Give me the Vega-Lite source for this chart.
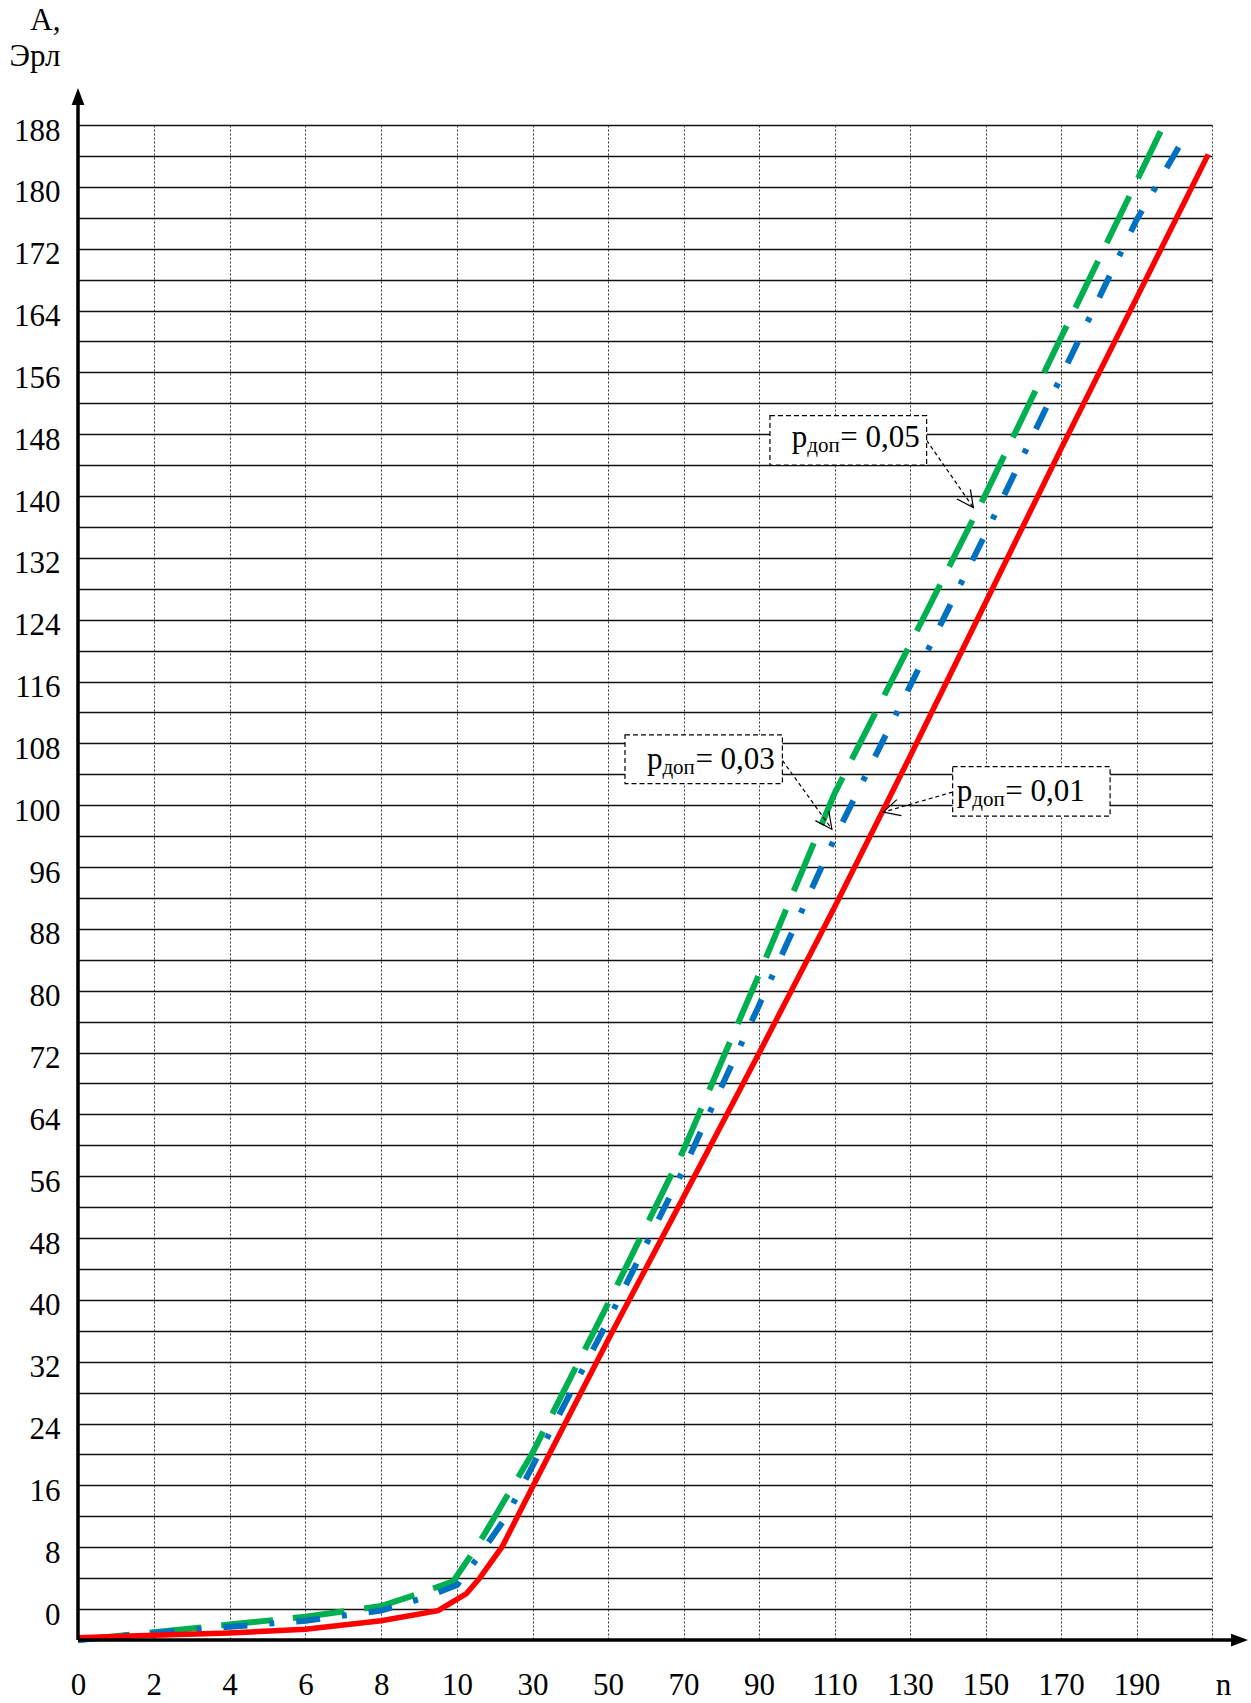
{
  "$schema": "https://vega.github.io/schema/vega-lite/v6.json",
  "width": 1134,
  "height": 1515,
  "autosize": {"type": "none"},
  "padding": {"left": 78, "top": 125, "right": 39, "bottom": 63},
  "background": "white",
  "config": {"view": {"stroke": null}, "font": "Liberation Serif"},
  "datasets": {
    "curves": [
      {"p": "0.05", "n": 0, "A": -4.0}, {"p": "0.05", "n": 2, "A": -3.0}, {"p": "0.05", "n": 4, "A": -2.0}, {"p": "0.05", "n": 6, "A": -1.0},
      {"p": "0.05", "n": 8, "A": 0.4}, {"p": "0.05", "n": 9, "A": 2.0}, {"p": "0.05", "n": 9.9, "A": 3.6}, {"p": "0.05", "n": 14.3, "A": 7.4},
      {"p": "0.05", "n": 17.4, "A": 9.8}, {"p": "0.05", "n": 30, "A": 20.2}, {"p": "0.05", "n": 50, "A": 39.5}, {"p": "0.05", "n": 70, "A": 59.4},
      {"p": "0.05", "n": 90, "A": 82.1}, {"p": "0.05", "n": 110, "A": 105.5}, {"p": "0.05", "n": 130, "A": 124.8}, {"p": "0.05", "n": 150, "A": 144.2},
      {"p": "0.05", "n": 170, "A": 164.5}, {"p": "0.05", "n": 190, "A": 184.7}, {"p": "0.05", "n": 197.1, "A": 191.9},
      {"p": "0.03", "n": 0, "A": -4.0}, {"p": "0.03", "n": 2, "A": -3.1}, {"p": "0.03", "n": 4, "A": -2.3}, {"p": "0.03", "n": 6, "A": -1.5},
      {"p": "0.03", "n": 8, "A": -0.2}, {"p": "0.03", "n": 9.1, "A": 1.4}, {"p": "0.03", "n": 10, "A": 3.1}, {"p": "0.03", "n": 15.4, "A": 6.6},
      {"p": "0.03", "n": 23, "A": 11.9}, {"p": "0.03", "n": 30, "A": 18.5}, {"p": "0.03", "n": 50, "A": 37.3}, {"p": "0.03", "n": 70, "A": 56.9},
      {"p": "0.03", "n": 90, "A": 78.1}, {"p": "0.03", "n": 110, "A": 99.7}, {"p": "0.03", "n": 130, "A": 119.4}, {"p": "0.03", "n": 150, "A": 139.1},
      {"p": "0.03", "n": 170, "A": 159.4}, {"p": "0.03", "n": 190, "A": 179.7}, {"p": "0.03", "n": 203.4, "A": 191.0},
      {"p": "0.01", "n": 0, "A": -3.7}, {"p": "0.01", "n": 2, "A": -3.4}, {"p": "0.01", "n": 4, "A": -3.1}, {"p": "0.01", "n": 6, "A": -2.6},
      {"p": "0.01", "n": 8, "A": -1.5}, {"p": "0.01", "n": 9.5, "A": -0.2}, {"p": "0.01", "n": 12.5, "A": 2.0}, {"p": "0.01", "n": 16, "A": 4.0},
      {"p": "0.01", "n": 22, "A": 8.1}, {"p": "0.01", "n": 30, "A": 15.8}, {"p": "0.01", "n": 50, "A": 34.8}, {"p": "0.01", "n": 70, "A": 53.3},
      {"p": "0.01", "n": 90, "A": 71.9}, {"p": "0.01", "n": 110, "A": 90.8}, {"p": "0.01", "n": 130, "A": 110.3}, {"p": "0.01", "n": 150, "A": 130.2},
      {"p": "0.01", "n": 170, "A": 150.1}, {"p": "0.01", "n": 190, "A": 169.6}, {"p": "0.01", "n": 209, "A": 188.2}
    ],
    "notes": [
      {"p": "0,05", "bn": 92.9, "bn2": 134.4, "ba": 154.4, "ba2": 148.0, "tn": 98.7, "ta": 150.3, "fn": 134.4, "fa": 151.2, "en": 146.8, "ea": 142.5, "eq": "= 0,05"},
      {"p": "0,03", "bn": 54.5, "bn2": 96.2, "ba": 113.1, "ba2": 106.8, "tn": 60.3, "ta": 108.7, "fn": 96.2, "fa": 109.8, "en": 109.3, "ea": 100.9, "eq": "= 0,03"},
      {"p": "0,01", "bn": 141.3, "bn2": 183.0, "ba": 109.0, "ba2": 102.6, "tn": 142.4, "ta": 104.6, "fn": 141.3, "fa": 105.7, "en": 122.9, "ea": 103.1, "eq": "= 0,01"}
    ]
  },
  "layer": [
    {
      "data": {"name": "curves"},
      "transform": [{"filter": "datum.p == '0.05'"}],
      "mark": {"type": "line", "color": "#00B050", "strokeWidth": 6, "strokeDash": [52, 20], "clip": false},
      "encoding": {
        "x": {
          "field": "n", "type": "quantitative",
          "scale": {"domain": [0, 10, 210], "range": [0, 379, 1134], "nice": false, "zero": false},
          "axis": {
            "values": [0, 2, 4, 6, 8, 10, 30, 50, 70, 90, 110, 130, 150, 170, 190, 210],
            "tickCount": 100,
            "grid": true, "gridDash": [2, 2], "gridColor": "#333", "gridWidth": 1,
            "domain": false, "ticks": false, "tickSize": 0,
            "labelExpr": "datum.value == 210 ? '' : datum.label",
            "labelFont": "Liberation Serif", "labelFontSize": 31, "labelColor": "black",
            "labelBaseline": "alphabetic", "labelPadding": 54, "labelOverlap": false, "labelBound": false, "labelFlush": false,
            "title": "n", "titleX": 1145, "titleY": 54, "titleAlign": "center", "titleBaseline": "alphabetic",
            "titleFont": "Liberation Serif", "titleFontSize": 31, "titleFontWeight": "normal", "titleColor": "black"
          }
        },
        "y": {
          "field": "A", "type": "quantitative",
          "scale": {"domain": [-4, 192], "nice": false, "zero": false},
          "axis": {
            "values": [0, 4, 8, 12, 16, 20, 24, 28, 32, 36, 40, 44, 48, 52, 56, 60, 64, 68, 72, 76, 80, 84, 88, 92, 96, 100, 104, 108, 112, 116, 120, 124, 128, 132, 136, 140, 144, 148, 152, 156, 160, 164, 168, 172, 176, 180, 184, 188, 192],
            "tickCount": 100,
            "grid": true, "gridColor": "#111", "gridWidth": 1.4,
            "domain": false, "ticks": false, "tickSize": 0,
            "labelExpr": "datum.value % 8 == 0 ? (datum.value > 96 ? datum.value - 4 : datum.value) + '' : ''",
            "labelFont": "Liberation Serif", "labelFontSize": 31, "labelColor": "black",
            "labelBaseline": "middle", "labelAlign": "right", "labelPadding": 18, "labelOffset": 6,
            "labelOverlap": false, "labelBound": false, "labelFlush": false,
            "title": ["A,", "Эрл"], "titleAngle": 0, "titleX": -18, "titleY": -96, "titleAlign": "right", "titleBaseline": "alphabetic",
            "titleFont": "Liberation Serif", "titleFontSize": 31, "titleFontWeight": "normal", "titleColor": "black", "titleLineHeight": 36
          }
        }
      }
    },
    {
      "data": {"name": "curves"},
      "transform": [{"filter": "datum.p == '0.03'"}],
      "mark": {"type": "line", "color": "#0070C0", "strokeWidth": 6, "strokeDash": [24, 22, 5, 22], "clip": false},
      "encoding": {
        "x": {"field": "n", "type": "quantitative"},
        "y": {"field": "A", "type": "quantitative"}
      }
    },
    {
      "data": {"name": "curves"},
      "transform": [{"filter": "datum.p == '0.01'"}],
      "mark": {"type": "line", "color": "#FF0000", "strokeWidth": 5.5, "clip": false},
      "encoding": {
        "x": {"field": "n", "type": "quantitative"},
        "y": {"field": "A", "type": "quantitative"}
      }
    },
    {
      "data": {"values": [{}]},
      "mark": {"type": "rule", "color": "black", "strokeWidth": 3.5, "clip": false},
      "encoding": {
        "x": {"datum": 0, "type": "quantitative"},
        "x2": {"datum": 217.3},
        "y": {"datum": -4, "type": "quantitative"}
      }
    },
    {
      "data": {"values": [{}]},
      "mark": {"type": "rule", "color": "black", "strokeWidth": 3.5, "clip": false},
      "encoding": {
        "x": {"datum": 0, "type": "quantitative"},
        "y": {"datum": -4, "type": "quantitative"},
        "y2": {"datum": 195.7}
      }
    },
    {
      "data": {"values": [{}]},
      "mark": {"type": "point", "shape": "M1,0L-1,-0.75L-1,0.75Z", "filled": true, "color": "black", "opacity": 1, "size": 289, "clip": false},
      "encoding": {
        "x": {"datum": 217.3, "type": "quantitative"},
        "y": {"datum": -4, "type": "quantitative"}
      }
    },
    {
      "data": {"values": [{}]},
      "mark": {"type": "point", "shape": "M0,-1L0.75,1L-0.75,1Z", "filled": true, "color": "black", "opacity": 1, "size": 289, "clip": false},
      "encoding": {
        "x": {"datum": 0, "type": "quantitative"},
        "y": {"datum": 195.7, "type": "quantitative"}
      }
    },
    {
      "data": {"name": "notes"},
      "mark": {"type": "rule", "color": "black", "strokeWidth": 1.2, "strokeDash": [4, 3], "clip": false},
      "encoding": {
        "x": {"field": "fn", "type": "quantitative"},
        "y": {"field": "fa", "type": "quantitative"},
        "x2": {"field": "en"},
        "y2": {"field": "ea"}
      }
    },
    {
      "data": {"name": "notes"},
      "mark": {"type": "rect", "fill": "white", "stroke": "black", "strokeWidth": 1.2, "strokeDash": [5, 3], "clip": false},
      "encoding": {
        "x": {"field": "bn", "type": "quantitative"},
        "x2": {"field": "bn2"},
        "y": {"field": "ba", "type": "quantitative"},
        "y2": {"field": "ba2"}
      }
    },
    {
      "data": {"name": "notes"},
      "mark": {"type": "text", "text": "p", "font": "Liberation Serif", "fontSize": 31, "align": "left", "baseline": "alphabetic", "color": "black", "clip": false},
      "encoding": {
        "x": {"field": "tn", "type": "quantitative"},
        "y": {"field": "ta", "type": "quantitative"}
      }
    },
    {
      "data": {"name": "notes"},
      "mark": {"type": "text", "text": "доп", "font": "Liberation Serif", "fontSize": 21, "align": "left", "baseline": "alphabetic", "dx": 15.5, "dy": 5, "color": "black", "clip": false},
      "encoding": {
        "x": {"field": "tn", "type": "quantitative"},
        "y": {"field": "ta", "type": "quantitative"}
      }
    },
    {
      "data": {"name": "notes"},
      "mark": {"type": "text", "font": "Liberation Serif", "fontSize": 31, "align": "left", "baseline": "alphabetic", "dx": 48.5, "color": "black", "clip": false},
      "encoding": {
        "x": {"field": "tn", "type": "quantitative"},
        "y": {"field": "ta", "type": "quantitative"},
        "text": {"field": "eq"}
      }
    },
    {
      "data": {"name": "notes"},
      "transform": [{"filter": "datum.p != '0,01'"}],
      "mark": {"type": "point", "shape": "M-2,-1L0,0L-2,1", "filled": false, "color": "black", "strokeWidth": 1.2, "opacity": 1, "size": 276, "angle": 54, "clip": false},
      "encoding": {
        "x": {"field": "en", "type": "quantitative"},
        "y": {"field": "ea", "type": "quantitative"}
      }
    },
    {
      "data": {"name": "notes"},
      "transform": [{"filter": "datum.p == '0,01'"}],
      "mark": {"type": "point", "shape": "M-2,-1L0,0L-2,1", "filled": false, "color": "black", "strokeWidth": 1.2, "opacity": 1, "size": 276, "angle": 164, "clip": false},
      "encoding": {
        "x": {"field": "en", "type": "quantitative"},
        "y": {"field": "ea", "type": "quantitative"}
      }
    }
  ]
}
